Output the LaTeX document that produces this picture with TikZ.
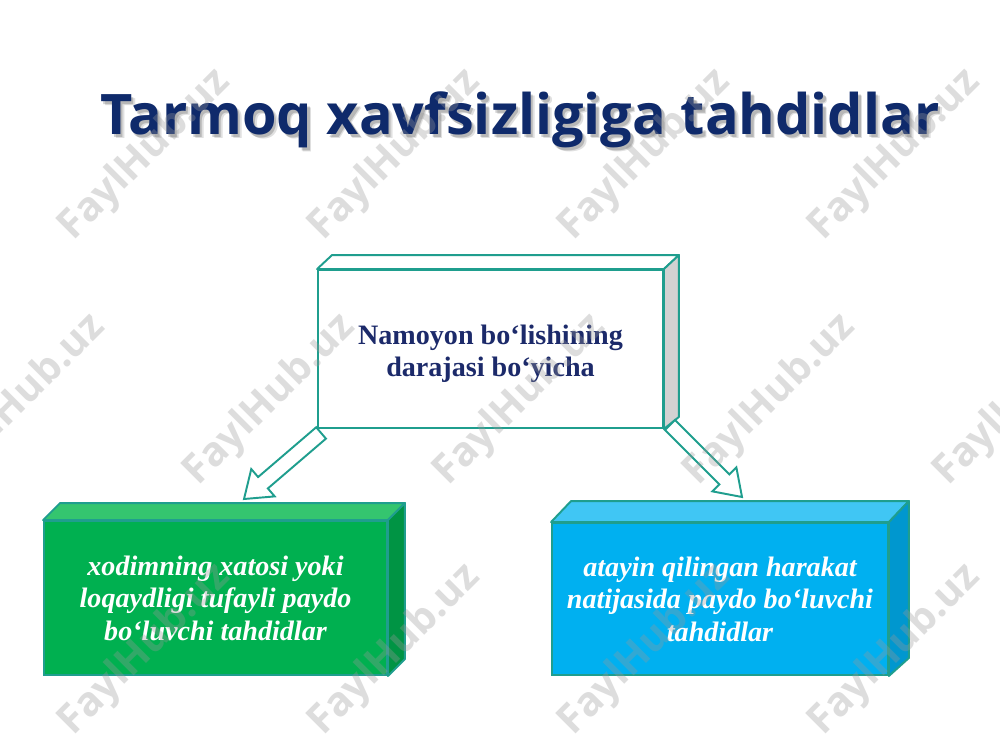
\documentclass[tikz,border=0pt]{standalone}
\usepackage{fontspec}
\setmainfont{Liberation Serif}
\newfontfamily\titlefont{Open Sans}
\usetikzlibrary{calc}
\definecolor{navy}{HTML}{0F2A6B}
\definecolor{boxnavy}{HTML}{1C2A6A}
\definecolor{tealline}{HTML}{1F9E8E}
\definecolor{greenfront}{HTML}{00B050}
\definecolor{greentop}{HTML}{34C56F}
\definecolor{greenside}{HTML}{009444}
\definecolor{bluefront}{HTML}{00B0F0}
\definecolor{bluetop}{HTML}{40C6F4}
\definecolor{blueside}{HTML}{0097CF}
\definecolor{graysides}{HTML}{D2D2D2}
\tikzset{
  frontface/.style={draw=tealline, line width=1.1pt, align=center, inner sep=0pt},
  sideface/.style={draw=tealline, line width=1.1pt, line join=round},
  blockarrow/.style={draw=tealline, fill=white, line width=1.1pt, line join=miter},
  lowtext/.style={font=\bfseries\itshape\fontsize{16}{18.5}\selectfont, text=white},
  titletext/.style={font=\titlefont\bfseries\fontsize{31.8}{36}\selectfont},
  wm/.style={font=\titlefont\bfseries\fontsize{23}{23}\selectfont, text=black!40, opacity=0.33, rotate=45}
}
\begin{document}
\begin{tikzpicture}[x=0.02cm,y=-0.02cm]
\useasboundingbox (0,0) rectangle (1000,750);
\fill[white] (0,0) rectangle (1000,750);

% title with soft shadow
\node[titletext, text=black, opacity=0.12] (titleshadow2) at (524,124) {Tarmoq xavfsizligiga tahdidlar};
\node[titletext, text=black, opacity=0.18] (titleshadow) at (522.5,122.5) {Tarmoq xavfsizligiga tahdidlar};
\node[titletext, text=navy] (title) at (520,120) {Tarmoq xavfsizligiga tahdidlar};

% top box
\node[frontface, fill=white, minimum width=6.9cm, minimum height=3.16cm] (top) at (490.5,349) {};
\node[align=center, font=\bfseries\fontsize{16}{18.5}\selectfont, text=boxnavy] (toptext) at ($(top.center)+(0,5)$)
      {Namoyon bo‘lishining\\darajasi bo‘yicha};
\filldraw[sideface, fill=white] (top.north west) -- ++(15,-14) -- ($(top.north east)+(15,-14)$) -- (top.north east) -- cycle;
\filldraw[sideface, fill=graysides] (top.north east) -- ++(15,-14) -- ($(top.south east)+(15,-12)$) -- (top.south east) -- cycle;

% green box
\node[frontface, fill=greenfront, minimum width=6.86cm, minimum height=3.08cm, lowtext] (green) at (215.5,598)
      {xodimning xatosi yoki\\loqaydligi tufayli paydo\\bo‘luvchi tahdidlar};
\filldraw[sideface, fill=greentop] (green.north west) -- ++(17,-17) -- ($(green.north east)+(17,-17)$) -- (green.north east) -- cycle;
\filldraw[sideface, fill=greenside] (green.north east) -- ++(17,-17) -- ($(green.south east)+(17,-17)$) -- (green.south east) -- cycle;

% blue box
\node[frontface, fill=bluefront, minimum width=6.72cm, minimum height=3.04cm, lowtext] (blue) at (720,599)
      {atayin qilingan harakat\\natijasida paydo bo‘luvchi\\tahdidlar};
\filldraw[sideface, fill=bluetop] (blue.north west) -- ++(20,-21) -- ($(blue.north east)+(20,-21)$) -- (blue.north east) -- cycle;
\filldraw[sideface, fill=blueside] (blue.north east) -- ++(20,-21) -- ($(blue.south east)+(20,-18)$) -- (blue.south east) -- cycle;

% block arrows
\coordinate (la) at ($(top.south west)+(4,4)$);
\coordinate (lb) at (244,499);
\coordinate (lh) at ($(lb)!0.5cm!(la)$);
\filldraw[blockarrow] ($(la)!0.15cm!90:(lb)$) -- ($(lh)!0.15cm!90:(lb)$) -- ($(lh)!0.36cm!90:(lb)$) -- (lb)
   -- ($(lh)!0.36cm!-90:(lb)$) -- ($(lh)!0.15cm!-90:(lb)$) -- ($(la)!0.15cm!-90:(lb)$) -- cycle;

\coordinate (ra) at ($(top.south east)+(6,-4)$);
\coordinate (rb) at (742,497);
\coordinate (rh) at ($(rb)!0.5cm!(ra)$);
\filldraw[blockarrow] ($(ra)!0.14cm!90:(rb)$) -- ($(rh)!0.14cm!90:(rb)$) -- ($(rh)!0.34cm!90:(rb)$) -- (rb)
   -- ($(rh)!0.34cm!-90:(rb)$) -- ($(rh)!0.14cm!-90:(rb)$) -- ($(ra)!0.14cm!-90:(rb)$) -- cycle;

% watermarks
\foreach \i/\x/\y in {1/145/155, 2/395/155, 3/645/155, 4/895/155,
                    5/20/400, 6/270/400, 7/520/400, 8/770/400, 9/1020/400,
                    10/145/650, 11/395/650, 12/645/650, 13/895/650}
  \node[wm] (wm\i) at (\x,\y) {FaylHub.uz};
\end{tikzpicture}
\end{document}
